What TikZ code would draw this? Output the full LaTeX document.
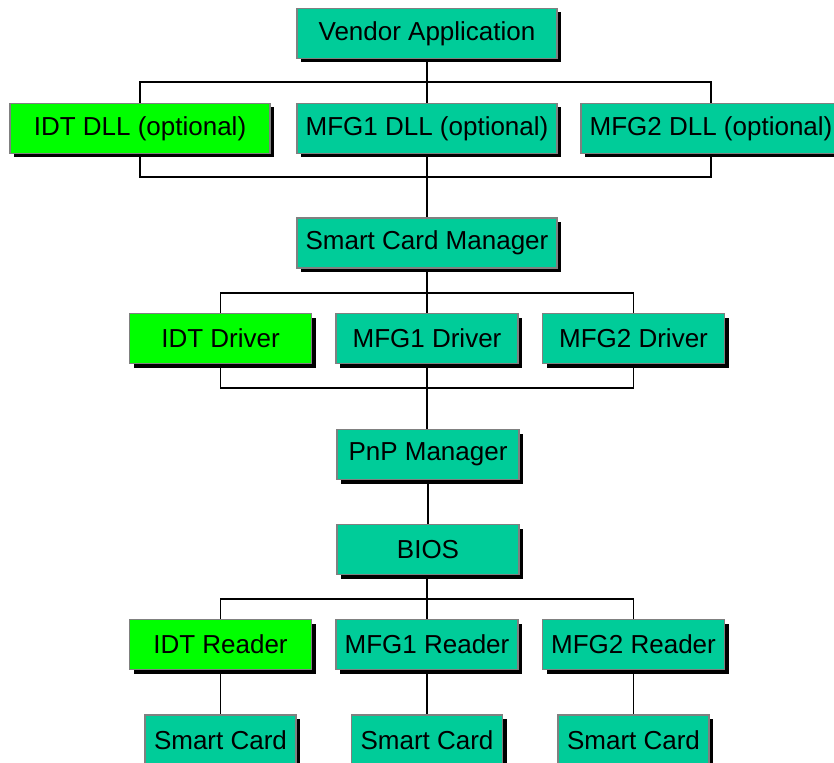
\documentclass[tikz,border=0pt]{standalone}
\usepackage{fontspec}
\setmainfont{Liberation Sans}
\usetikzlibrary{shadows,backgrounds}
\definecolor{boxteal}{RGB}{0,204,153}
\definecolor{boxgreen}{RGB}{0,255,0}
\definecolor{boxedge}{RGB}{128,128,128}
\tikzset{
  box/.style={draw=boxedge, line width=1.5pt, fill=boxteal, inner sep=0pt,
    minimum height=50pt, font=\fontsize{26}{30}\selectfont,
    drop shadow={shadow xshift=4pt, shadow yshift=-4pt, opacity=1, fill=black}},
  idt/.style={fill=boxgreen},
  wide/.style={minimum width=260pt},
  mid/.style={minimum width=182pt},
  small/.style={minimum width=151pt},
  conn/.style={draw=black, line width=1.6pt}
}
\begin{document}
\begin{tikzpicture}[x=1pt,y=-1pt]
\useasboundingbox (0,0) rectangle (834,762);
% nodes
\node[box,wide] (va) at (427,33.5) {Vendor Application};
\node[box,wide,idt] (idtdll) at (140,128.5) {IDT DLL (optional)};
\node[box,wide] (mfg1dll) at (427,128.5) {MFG1 DLL (optional)};
\node[box,wide] (mfg2dll) at (711,128.5) {MFG2 DLL (optional)};
\node[box,wide] (scm) at (427,243) {Smart Card Manager};
\node[box,mid,idt] (idtdrv) at (220.5,338.5) {IDT Driver};
\node[box,mid] (mfg1drv) at (427,338.5) {MFG1 Driver};
\node[box,mid] (mfg2drv) at (633.5,338.5) {MFG2 Driver};
\node[box,mid] (pnp) at (428,454.5) {PnP Manager};
\node[box,mid] (bios) at (428,549.5) {BIOS};
\node[box,mid,idt] (idtrd) at (220.5,644.5) {IDT Reader};
\node[box,mid] (mfg1rd) at (427,644.5) {MFG1 Reader};
\node[box,mid] (mfg2rd) at (633.5,644.5) {MFG2 Reader};
\node[box,small] (card1) at (220.5,740) {Smart Card};
\node[box,small] (card2) at (427,740) {Smart Card};
\node[box,small] (card3) at (633.5,740) {Smart Card};
% junction coordinates
\coordinate (h1) at (427,82);
\coordinate (h2) at (427,177);
\coordinate (h3) at (427,293);
\coordinate (h4) at (427,388);
\coordinate (h5) at (427,599);
\begin{scope}[on background layer]
\draw[conn] (va.south) -- (h1);
\draw[conn] (idtdll.north) |- (h1) -| (mfg2dll.north);
\draw[conn] (mfg1dll.north) -- (h1);
\draw[conn] (idtdll.south) |- (h2) -| (mfg2dll.south);
\draw[conn] (mfg1dll.south) -- (h2);
\draw[conn] (h2) -- (scm.north);
\draw[conn] (scm.south) -- (h3);
\draw[conn] (idtdrv.north) |- (h3) -| (mfg2drv.north);
\draw[conn] (mfg1drv.north) -- (h3);
\draw[conn] (idtdrv.south) |- (h4) -| (mfg2drv.south);
\draw[conn] (mfg1drv.south) -- (h4);
\draw[conn] (h4) -- (pnp.north -| h4);
\draw[conn] (pnp.south) -- (bios.north);
\draw[conn] (bios.south -| h5) -- (h5);
\draw[conn] (idtrd.north) |- (h5) -| (mfg2rd.north);
\draw[conn] (mfg1rd.north) -- (h5);
\draw[conn] (idtrd.south) -- (card1.north);
\draw[conn] (mfg1rd.south) -- (card2.north);
\draw[conn] (mfg2rd.south) -- (card3.north);
\end{scope}
\end{tikzpicture}
\end{document}
